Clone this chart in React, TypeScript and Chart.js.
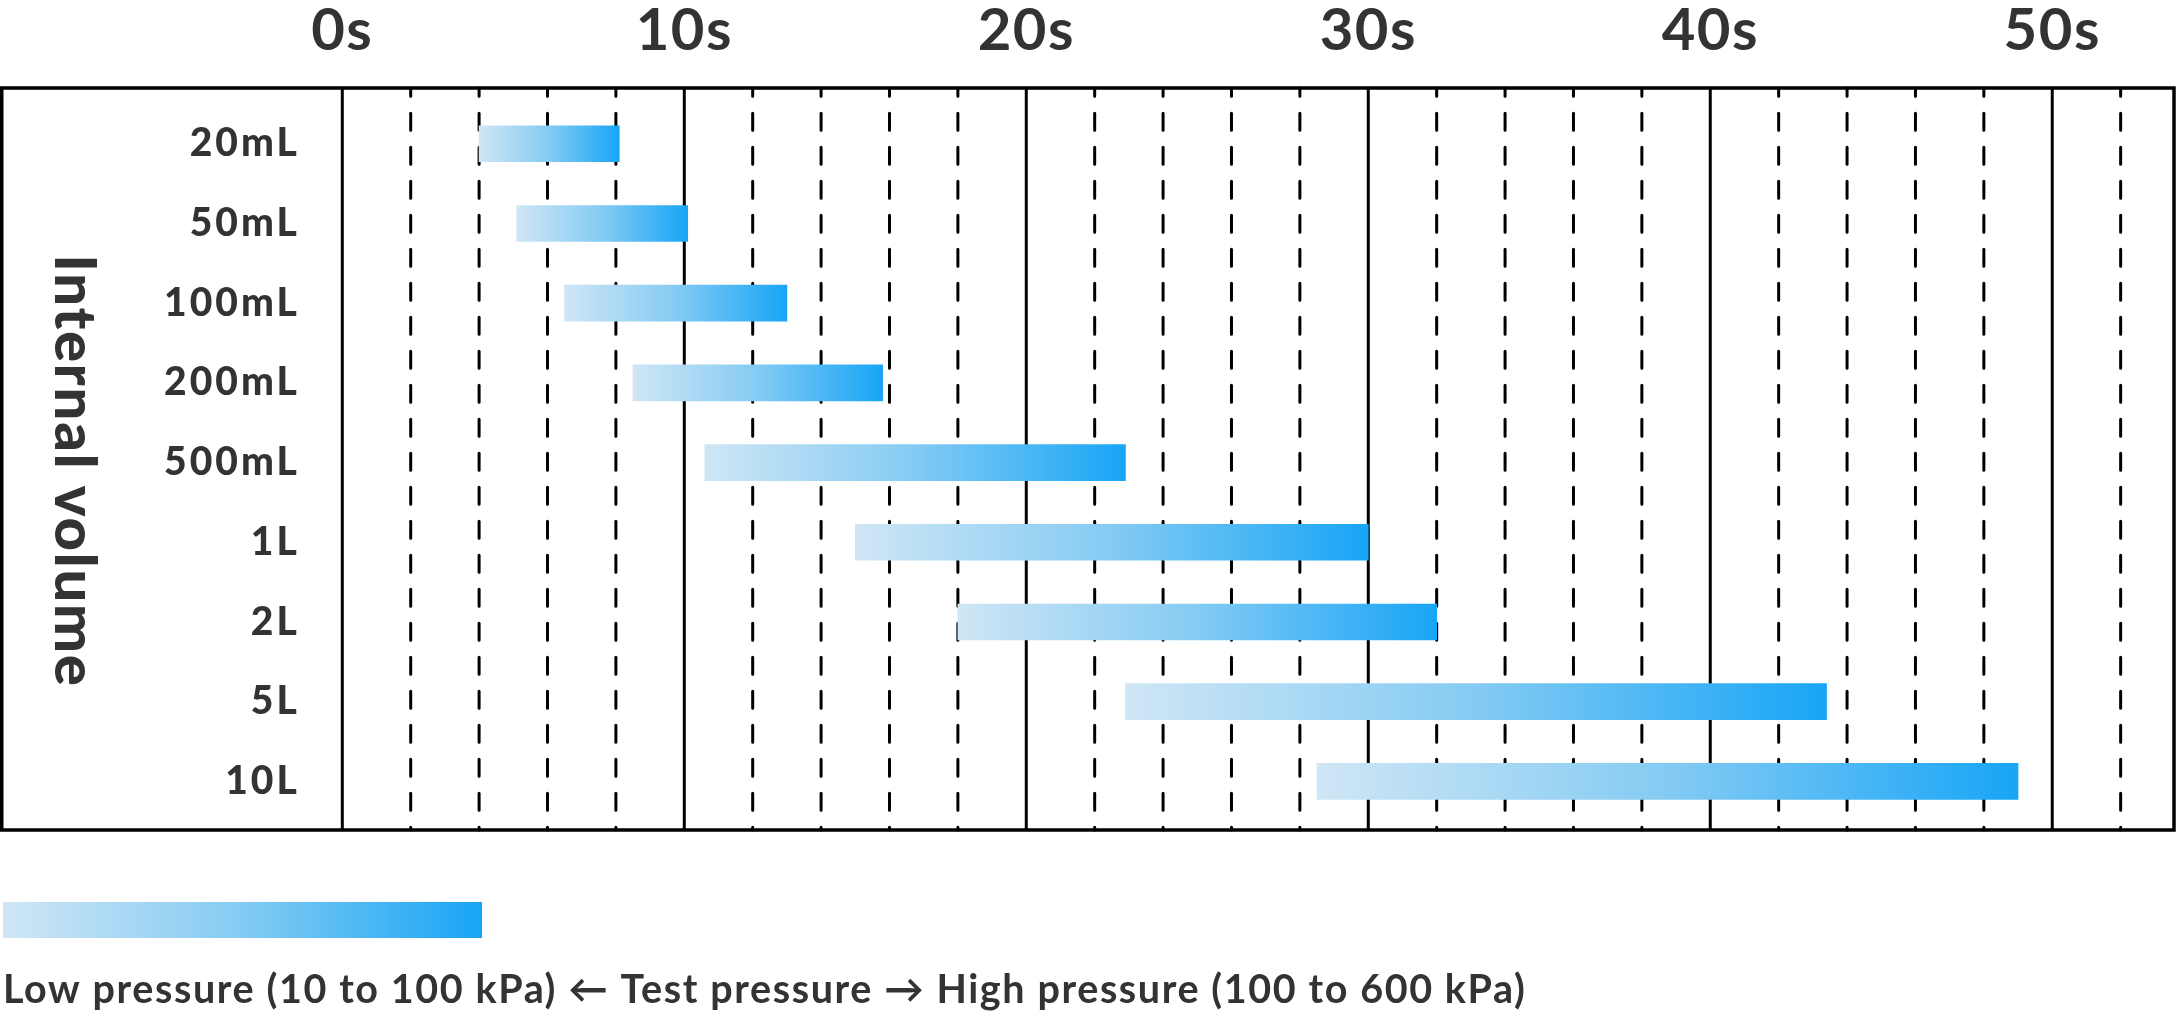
import React, { useEffect, useRef } from 'react';
import { Chart, registerables } from 'chart.js';

Chart.register(...registerables);

// ---- data ----
const volumeLabels = ['20mL', '50mL', '100mL', '200mL', '500mL', '1L', '2L', '5L', '10L'];
const startTimes = [4, 5.1, 6.5, 8.5, 10.6, 15, 18, 22.9, 28.5];
const endTimes = [8.1, 10.1, 13, 15.8, 22.9, 30, 32, 43.4, 49];
const timeTickValues = [0, 10, 20, 30, 40, 50];
const timeTickLabels = ['0s', '10s', '20s', '30s', '40s', '50s'];
const minorStep = 2;
const majorStep = 10;
const axisTitle = 'Internal volume';
const legendText = 'Low pressure (10 to 100 kPa) \u2190 Test pressure \u2192 High pressure (100 to 600 kPa)';

// ---- style ----
const GRAD_STOPS: [number, string][] = [
  [0, '#cfe6f5'],
  [0.5, '#84cbf3'],
  [1, '#18a5f6'],
];
const TEXT = '#333333';
const FONT = 'Lato, "Open Sans", sans-serif';
const LABEL_SPACING: Record<string, number> = { x: 1.5, y: 3 };

function gradient(ctx: CanvasRenderingContext2D, x0: number, x1: number) {
  const g = ctx.createLinearGradient(x0, 0, x1, 0);
  GRAD_STOPS.forEach(([o, c]) => g.addColorStop(o, c));
  return g;
}

export default function App() {
  const ref = useRef<HTMLCanvasElement>(null);

  useEffect(() => {
    const canvas = ref.current!;
    const data = volumeLabels.map((_, i) => ({ x: [startTimes[i], endTimes[i]], y: i }));

    const framePlugin = {
      id: 'frame',
      beforeDraw(chart: any) {
        // letter-spaced tick labels
        Object.keys(LABEL_SPACING).forEach((id) => {
          const s = chart.scales[id];
          if (!s || s._lsPatched) return;
          const orig = s.drawLabels;
          s.drawLabels = function (ca: any) {
            const c = this.ctx as any;
            const prev = c.letterSpacing;
            c.letterSpacing = LABEL_SPACING[id] + 'px';
            orig.call(this, ca);
            c.letterSpacing = prev || '0px';
          };
          s._lsPatched = true;
        });
      },
      beforeDatasetsDraw(chart: any) {
        const { ctx, chartArea: ca, scales } = chart;
        const x = scales.x;
        ctx.save();
        ctx.strokeStyle = '#000';
        ctx.lineWidth = 3;
        for (let v = 0; v <= x.max; v += minorStep) {
          const px = x.getPixelForValue(v);
          ctx.beginPath();
          if (v % majorStep === 0) {
            ctx.setLineDash([]);
            ctx.lineCap = 'butt';
          } else {
            ctx.setLineDash([17, 17]);
            ctx.lineDashOffset = 8.8;
            ctx.lineCap = 'round';
          }
          ctx.moveTo(px, ca.top);
          ctx.lineTo(px, ca.bottom);
          ctx.stroke();
        }
        ctx.restore();
      },
      afterDraw(chart: any) {
        const { ctx, chartArea: ca } = chart;
        ctx.save();
        // outer frame
        ctx.setLineDash([]);
        ctx.strokeStyle = '#000';
        ctx.lineWidth = 3.5;
        ctx.strokeRect(1.75, ca.top, ca.right - 1.75, ca.bottom - ca.top);

        // rotated axis title
        ctx.fillStyle = TEXT;
        ctx.font = `900 58px ${FONT}`;
        (ctx as any).letterSpacing = '1.8px';
        ctx.textAlign = 'center';
        ctx.textBaseline = 'alphabetic';
        ctx.save();
        ctx.translate(55, (ca.top + ca.bottom) / 2 + 12);
        ctx.rotate(Math.PI / 2);
        ctx.fillText(axisTitle, 0, 0);
        ctx.restore();

        // legend
        ctx.fillStyle = gradient(ctx, 3, 482);
        ctx.fillRect(3, 902, 479, 36);
        ctx.fillStyle = TEXT;
        ctx.font = `bold 39.5px ${FONT}`;
        (ctx as any).letterSpacing = '1.6px';
        ctx.textAlign = 'left';
        ctx.fillText(legendText, 3, 1003);
        (ctx as any).letterSpacing = '0px';
        ctx.restore();
      },
    };

    const chart = new Chart(canvas, {
      type: 'bar',
      data: {
        datasets: [
          {
            data: data as any,
            barThickness: 36,
            borderWidth: 0,
            borderSkipped: false,
            backgroundColor: (c: any) => {
              const ch = c.chart;
              const x = ch.scales && ch.scales.x;
              if (!x || !c.raw || !ch.chartArea) return GRAD_STOPS[2][1];
              const x0 = x.getPixelForValue(c.raw.x[0]);
              const x1 = x.getPixelForValue(c.raw.x[1]);
              if (!isFinite(x0) || !isFinite(x1) || x0 === x1) return GRAD_STOPS[2][1];
              return gradient(ch.ctx, x0, x1);
            },
          },
        ],
      },
      options: {
        indexAxis: 'y',
        responsive: false,
        animation: false,
        devicePixelRatio: 1,
        layout: { padding: { left: 0, top: 0, right: 2, bottom: 190 } },
        plugins: { legend: { display: false }, tooltip: { enabled: false } },
        scales: {
          x: {
            type: 'linear',
            position: 'top',
            min: 0,
            max: 53.56,
            offset: false,
            grid: { display: false, drawTicks: false },
            border: { display: false },
            afterBuildTicks: (axis: any) => {
              axis.ticks = timeTickValues.map((v) => ({ value: v }));
            },
            afterFit: (axis: any) => {
              axis.height = 88;
            },
            ticks: {
              padding: 22,
              maxRotation: 0,
              autoSkip: false,
              color: TEXT,
              font: { family: FONT, size: 58, weight: 'bold' },
              callback: (v: any) => timeTickLabels[timeTickValues.indexOf(Number(v))] ?? '',
            },
          },
          y: {
            type: 'linear',
            reverse: true,
            min: -0.7,
            max: 8.61,
            offset: false,
            grid: { display: false, drawTicks: false, offset: false },
            border: { display: false },
            afterBuildTicks: (axis: any) => {
              axis.ticks = volumeLabels.map((_, i) => ({ value: i }));
            },
            afterFit: (axis: any) => {
              axis.width = 342.3;
            },
            ticks: {
              padding: 42.5,
              autoSkip: false,
              color: TEXT,
              font: { family: FONT, size: 39, weight: 900 },
              callback: (v: any) => volumeLabels[Number(v)] ?? '',
            },
          },
        },
      },
      plugins: [framePlugin],
    } as any);

    return () => chart.destroy();
  }, []);

  return (
    <div style={{ position: 'absolute', left: 0, top: 0, width: 2176, height: 1020, background: '#fff' }}>
      <canvas ref={ref} width={2176} height={1020} style={{ display: 'block', width: 2176, height: 1020 }} />
    </div>
  );
}
